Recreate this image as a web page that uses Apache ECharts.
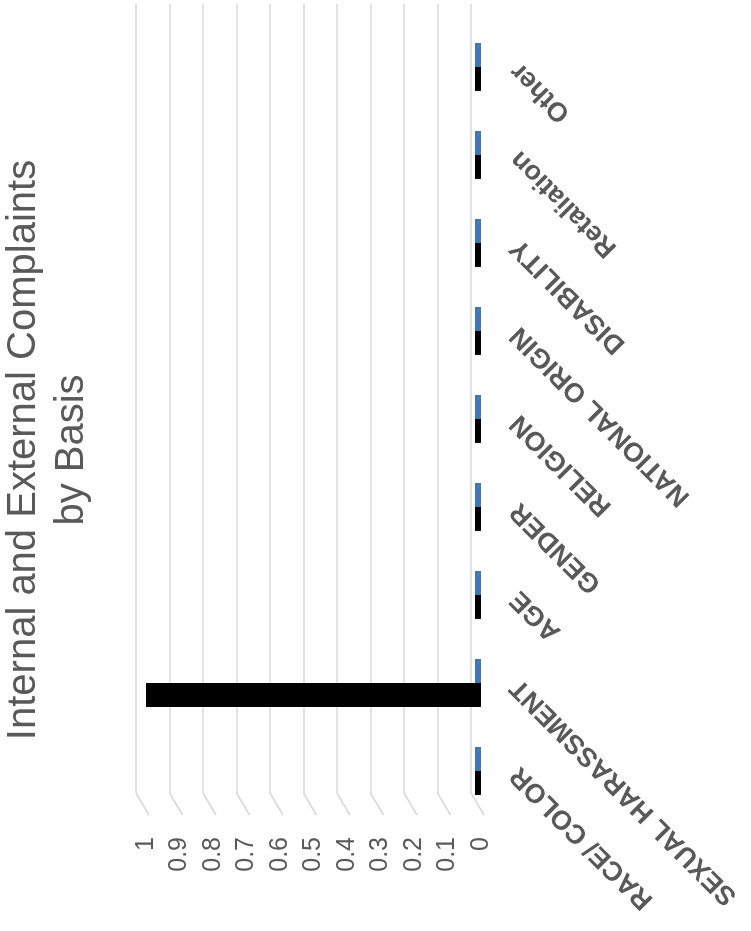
<!DOCTYPE html>
<html>
<head>
<meta charset="utf-8">
<script src="https://cdn.jsdelivr.net/npm/echarts@6/dist/echarts.min.js"></script>
<style>
html,body{margin:0;padding:0;background:#fff;overflow:hidden;width:751px;height:931px;}
#chart{position:absolute;width:931px;height:751px;left:-90px;top:90px;transform:rotate(-90deg);transform-origin:50% 50%;}
</style>
</head>
<body>
<div id="chart"></div>
<script>
// Data (chart is drawn as a column chart and the whole chart is turned a quarter turn, like the reference)
const titleText = 'Internal and External Complaints\nby Basis';
const categories = ['RACE/ COLOR', 'SEXUAL HARASSMENT', 'AGE', 'GENDER', 'RELIGION', 'NATIONAL ORIGIN', 'DISABILITY', 'Retaliation', 'Other'];
const seriesNames = ['Internal', 'External'];
const internalValues = [0, 1, 0, 0, 0, 0, 0, 0, 0];
const externalValues = [0, 0, 0, 0, 0, 0, 0, 0, 0];
const valueTicks = [0, 0.1, 0.2, 0.3, 0.4, 0.5, 0.6, 0.7, 0.8, 0.9, 1];

const FONT = 'Liberation Sans, Arial, sans-serif';
const GRID_COLOR = '#d9d9d9';
const TEXT_COLOR = '#595959';

const chart = echarts.init(document.getElementById('chart'), null, {renderer: 'canvas'});

const option = {
  animation: false,
  backgroundColor: '#ffffff',
  grid: [
    {left: 138, right: 4, top: 136, bottom: 280, containLabel: false, outerBoundsMode: 'none'},   // back wall (gridlines)
    {left: 116, right: 23, top: 146, bottom: 270, containLabel: false, outerBoundsMode: 'none'}   // front plane (bars, labels)
  ],
  xAxis: [
    {gridIndex: 0, type: 'category', data: categories, show: false},
    {
      gridIndex: 1, type: 'category', data: categories,
      axisLine: {show: false}, axisTick: {show: false}, splitLine: {show: false},
      axisLabel: {interval: 0, rotate: 45, margin: 34, color: TEXT_COLOR, fontSize: 27, fontWeight: 'bold', fontFamily: FONT}
    }
  ],
  yAxis: [
    {
      gridIndex: 0, type: 'value', min: valueTicks[0], max: valueTicks[valueTicks.length - 1], interval: 0.1,
      axisLabel: {show: false}, axisLine: {show: false}, axisTick: {show: false},
      splitLine: {show: true, lineStyle: {color: GRID_COLOR, width: 1.6}}
    },
    {
      gridIndex: 1, type: 'value', min: valueTicks[0], max: valueTicks[valueTicks.length - 1], interval: 0.1,
      axisLine: {show: false}, axisTick: {show: false}, splitLine: {show: false},
      axisLabel: {color: TEXT_COLOR, fontSize: 25, margin: 22, fontFamily: FONT}
    }
  ],
  series: [
    {
      name: seriesNames[0], type: 'bar', xAxisIndex: 1, yAxisIndex: 1, data: internalValues,
      barWidth: 24, barGap: '0%', barMinHeight: 6, itemStyle: {color: '#000000'}
    },
    {
      name: seriesNames[1], type: 'bar', xAxisIndex: 1, yAxisIndex: 1, data: externalValues,
      barWidth: 24, barGap: '0%', barMinHeight: 6, itemStyle: {color: '#3f78b5'}
    }
  ]
};
chart.setOption(option);

// Floor depth lines joining back-wall gridlines to the front plane, placed through the axes
const c0 = chart.convertToPixel({xAxisIndex: 0}, categories[0]);
const c1 = chart.convertToPixel({xAxisIndex: 0}, categories[1]);
const backLeft = c0 - (c1 - c0) / 2;
const f0 = chart.convertToPixel({xAxisIndex: 1}, categories[0]);
const f1 = chart.convertToPixel({xAxisIndex: 1}, categories[1]);
const frontLeft = f0 - (f1 - f0) / 2;

const graphics = valueTicks.map(function (t) {
  const yb = chart.convertToPixel({yAxisIndex: 0}, t);
  const yf = chart.convertToPixel({yAxisIndex: 1}, t);
  return {
    type: 'line', silent: true,
    shape: {x1: backLeft, y1: yb, x2: frontLeft, y2: yf + 3},
    style: {stroke: GRID_COLOR, lineWidth: 1.6}
  };
});
graphics.push({
  type: 'text', silent: true, x: 481, y: 0,
  style: {text: titleText, fontSize: 40, lineHeight: 48, fontFamily: FONT, fill: TEXT_COLOR, align: 'center', verticalAlign: 'top'}
});
chart.setOption({graphic: graphics});
</script>
</body>
</html>
